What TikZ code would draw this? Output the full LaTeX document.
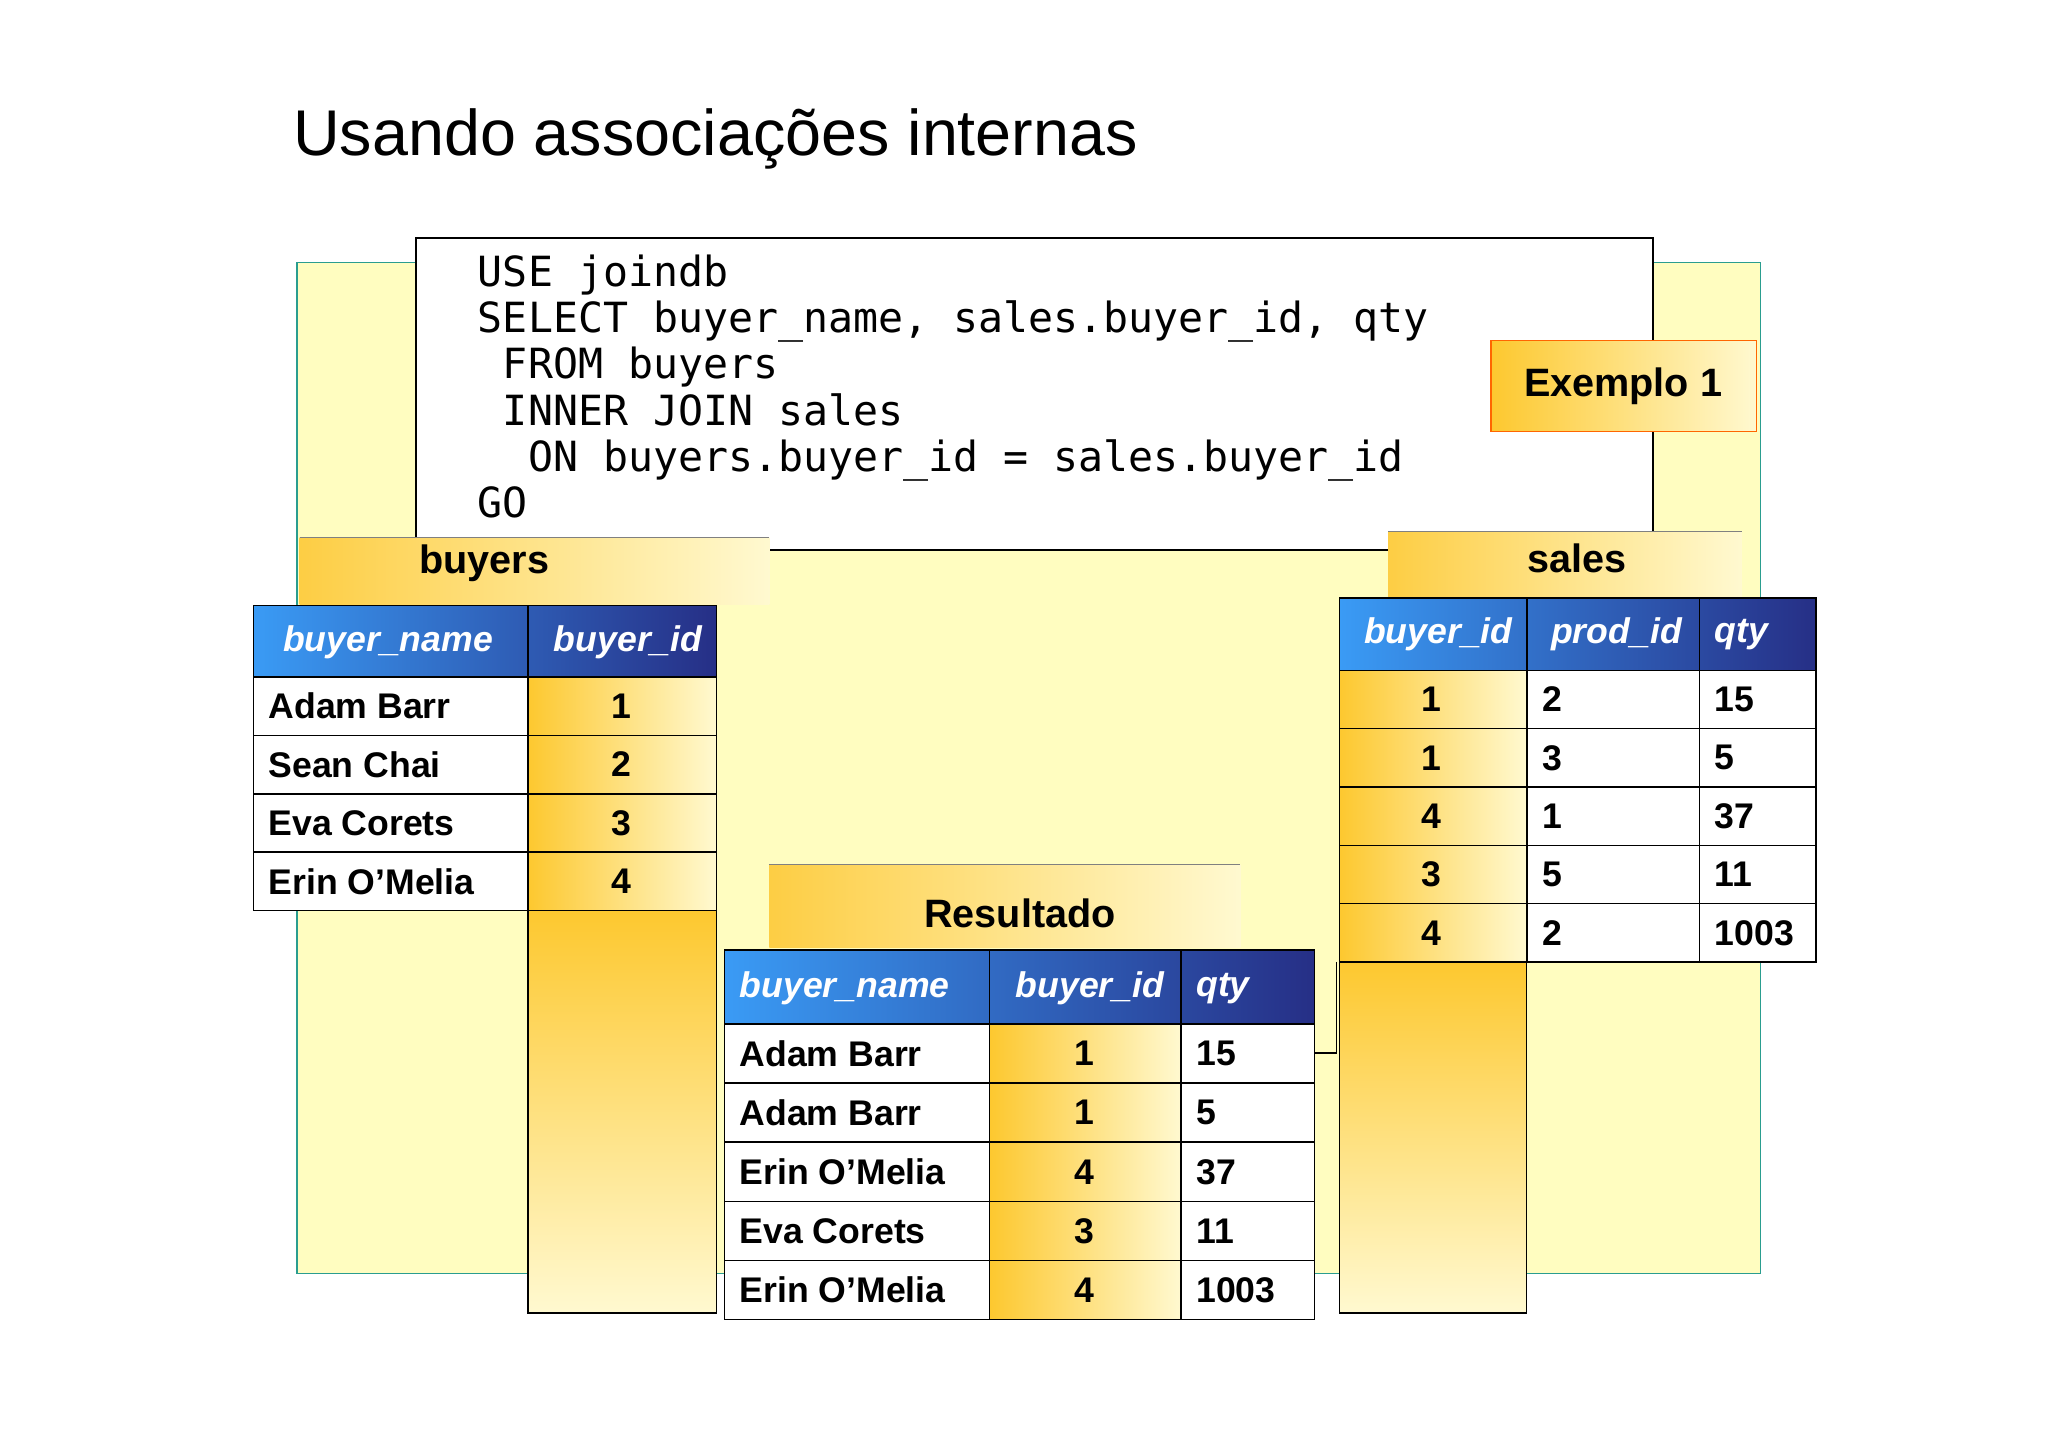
\documentclass[tikz,border=0pt]{standalone}
\usepackage{fontspec}
\setmainfont{Liberation Sans}
\setmonofont{DejaVu Sans Mono}
\usetikzlibrary{positioning}
\definecolor{bgy}{HTML}{FFFDC0}
\definecolor{teal}{HTML}{2A9D8F}
\definecolor{org}{HTML}{FDC82F}
\definecolor{pale}{HTML}{FFF9D0}
\definecolor{hb1}{HTML}{3A9BF5}
\definecolor{hb2}{HTML}{262F86}
\tikzset{
 hdr/.style={left color=hb1,right color=hb2,draw=black,line width=1.2pt},
 cellw/.style={fill=white,draw=black,line width=1.2pt},
 cello/.style={left color=org,right color=pale,draw=black,line width=1.2pt},
 colext/.style={top color=org,bottom color=pale,draw=black,line width=1pt},
 tabst/.style={left color=org!90,right color=pale},
 ht/.style={font=\fontsize{27}{30}\selectfont\bfseries\itshape,text=white},
 ct/.style={font=\fontsize{27}{30}\selectfont\bfseries},
}
\begin{document}
\begin{tikzpicture}[x=1pt,y=-1pt]
\useasboundingbox (0,0) rectangle (1552,1097);
\node[anchor=west,font=\fontsize{49}{55}\selectfont,inner sep=0] (title) at (222,105) {Usando associações internas};
% background
\draw[teal,fill=bgy,line width=1.2pt] (225,199) rectangle (1334,965);
% code box
\draw[fill=white,line width=1.5pt] (315,180) rectangle (1253,417);
\node[anchor=north west,align=left,font=\ttfamily\fontsize{31.5}{35}\selectfont,inner sep=0] (code) at (362,193) {USE joindb\\SELECT buyer\_name, sales.buyer\_id, qty\\\ FROM buyers\\\ INNER JOIN sales\\\ \ ON buyers.buyer\_id = sales.buyer\_id\\GO};
% exemplo
\draw[draw=orange!80!red,line width=1pt,left color=org,right color=pale] (1130,258) rectangle (1331,327);
\node[ct,font=\fontsize{30}{33}\selectfont\bfseries] (ex) at (1230,293) {Exemplo 1};
% line right of result
\draw[line width=1pt] (1013,729) -- (1013,798) -- (996,798);
% buyers
\fill[tabst] (227,407) rectangle (583,458);
\draw[line width=0.6pt,gray] (227,407) -- (583,407);
\node[ct,font=\fontsize{30}{33}\selectfont\bfseries] (bt) at (367,427) {buyers};
\draw[colext] (400,690) rectangle (543,995);
\draw[hdr] (192,459) rectangle (543,513);
\draw[line width=1.2pt] (400,459) -- (400,513);
\node[ht] at (294,487) {buyer\_name};
\node[ht] at (476,487) {buyer\_id};
\foreach \n/\i [count=\k from 0] in {Adam Barr/1,Sean Chai/2,Eva Corets/3,Erin O’Melia/4}{
 \pgfmathsetmacro\ya{513+44.25*\k}\pgfmathsetmacro\yb{\ya+44.25}
 \draw[cellw] (192,\ya) rectangle (400,\yb);
 \draw[cello] (400,\ya) rectangle (543,\yb);
 \node[ct,anchor=west] at (200,{(\ya+\yb)/2}) {\n};
 \node[ct] at (471,{(\ya+\yb)/2}) {\i};
}
% sales
\fill[tabst] (1052,403) rectangle (1320,452);
\draw[line width=0.6pt,gray] (1052,403) -- (1320,403);
\node[ct,font=\fontsize{30}{33}\selectfont\bfseries] (st) at (1195,423) {sales};
\draw[colext] (1015,729) rectangle (1157,995);
\draw[hdr] (1015,453) rectangle (1376,508);
\draw[line width=1.2pt] (1157,453) -- (1157,508) (1288,453) -- (1288,508);
\node[ht] at (1090,481) {buyer\_id};
\node[ht] at (1225,481) {prod\_id};
\node[ht,anchor=west] at (1296,481) {qty};
\foreach \a/\b/\c [count=\k from 0] in {1/2/15,1/3/5,4/1/37,3/5/11,4/2/1003}{
 \pgfmathsetmacro\ya{508+44.2*\k}\pgfmathsetmacro\yb{\ya+44.2}
 \draw[cello] (1015,\ya) rectangle (1157,\yb);
 \draw[cellw] (1157,\ya) rectangle (1288,\yb);
 \draw[cellw] (1288,\ya) rectangle (1376,\yb);
 \node[ct] at (1085,{(\ya+\yb)/2}) {\a};
 \node[ct,anchor=west] at (1165,{(\ya+\yb)/2}) {\b};
 \node[ct,anchor=west] at (1296,{(\ya+\yb)/2}) {\c};
}
% resultado
\fill[tabst] (583,655) rectangle (940,718);
\draw[line width=0.6pt,gray] (583,655) -- (940,655);
\node[ct,font=\fontsize{30}{33}\selectfont\bfseries] (rt) at (773,692) {Resultado};
\draw[hdr] (549,720) rectangle (996,776);
\draw[line width=1.2pt] (750,720) -- (750,776) (895,720) -- (895,776);
\node[ht,anchor=west] at (557,749) {buyer\_name};
\node[ht] at (826,749) {buyer\_id};
\node[ht,anchor=west] at (903,749) {qty};
\foreach \n/\i/\q [count=\k from 0] in {Adam Barr/1/15,Adam Barr/1/5,Erin O’Melia/4/37,Eva Corets/3/11,Erin O’Melia/4/1003}{
 \pgfmathsetmacro\ya{776+44.8*\k}\pgfmathsetmacro\yb{\ya+44.8}
 \draw[cellw] (549,\ya) rectangle (750,\yb);
 \draw[cello] (750,\ya) rectangle (895,\yb);
 \draw[cellw] (895,\ya) rectangle (996,\yb);
 \node[ct,anchor=west] at (557,{(\ya+\yb)/2}) {\n};
 \node[ct] at (822,{(\ya+\yb)/2}) {\i};
 \node[ct,anchor=west] at (903,{(\ya+\yb)/2}) {\q};
}
\end{tikzpicture}
\end{document}
